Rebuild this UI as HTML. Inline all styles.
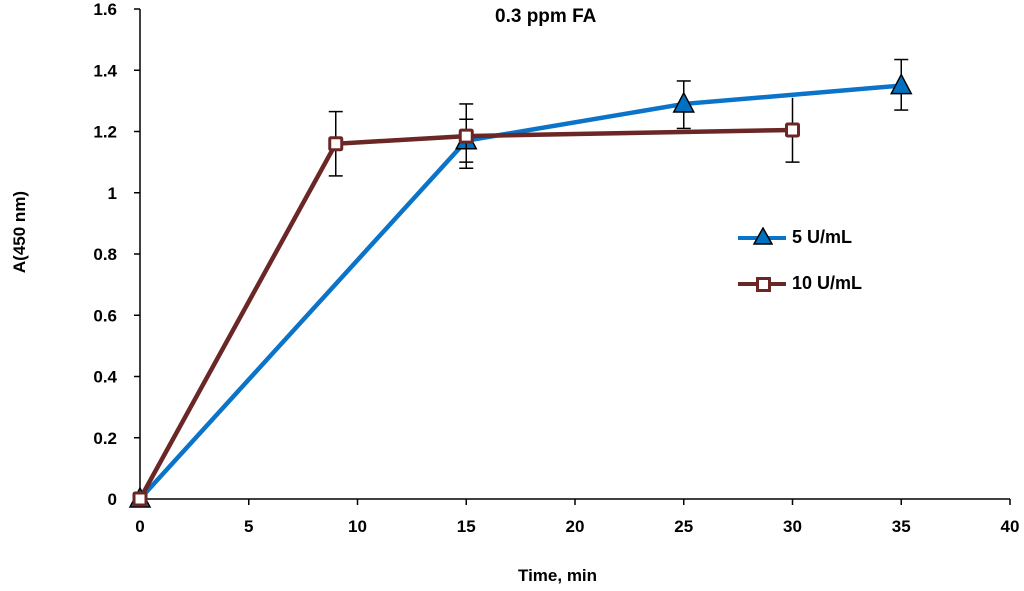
<!DOCTYPE html>
<html><head><meta charset="utf-8"><style>
body{margin:0;background:#fff;}
svg{display:block;font-family:"Liberation Sans",sans-serif;}
</style></head><body>
<svg id="c" width="1024" height="591"></svg>
<script>
const categoriesA=[0,15,25,35];
const valuesA=[0,1.17,1.29,1.35];
const errUpA=[0,0.12,0.075,0.085];
const errLoA=[0,0.09,0.08,0.08];
const categoriesB=[0,9,15,30];
const valuesB=[0,1.16,1.185,1.205];
const errUpB=[0,0.105,0.055,0.105];
const errLoB=[0,0.105,0.085,0.105];
const xTicks=[0,5,10,15,20,25,30,35,40];
const yTicks=[0,0.2,0.4,0.6,0.8,1,1.2,1.4,1.6];
const NS="http://www.w3.org/2000/svg";
const svg=document.getElementById('c');
const X=v=>140+v*21.75, Y=v=>499-v*306.25;
function mk(t,a,p){const e=document.createElementNS(NS,t);for(const k in a)e.setAttribute(k,a[k]);(p||svg).appendChild(e);return e;}
let ax=mk('line',{x1:140,y1:9,x2:140,y2:499,stroke:'#000','stroke-width':1.5});


ax=mk('line',{x1:140,y1:499,x2:1010,y2:499,stroke:'#000','stroke-width':1.5});


xTicks.forEach(v=>{mk('line',{x1:X(v),y1:499,x2:X(v),y2:505,stroke:'#000','stroke-width':1.5});
 const t=mk('text',{x:X(v),y:532,'text-anchor':'middle','font-size':17,'font-weight':'bold'});t.textContent=v;
 
 });
yTicks.forEach(v=>{mk('line',{x1:134,y1:Y(v),x2:140,y2:Y(v),stroke:'#000','stroke-width':1.5});
 const t=mk('text',{x:117,y:Y(v)+6,'text-anchor':'end','font-size':17,'font-weight':'bold'});t.textContent=v;
 
 });
function series(cat,val,up,lo,color,name,marker,noTopCapIdx){
 const g=mk('g',{});
 
 
 mk('polyline',{points:cat.map((c,i)=>X(c)+','+Y(val[i])).join(' '),fill:'none',stroke:color,'stroke-width':4.5},g);
 cat.forEach((c,i)=>{
  if(up[i]>0){const x=X(c);
   mk('line',{x1:x,y1:Y(val[i]+up[i]),x2:x,y2:Y(val[i]-lo[i]),stroke:'#000','stroke-width':1.5},g);
   if(i!==noTopCapIdx) mk('line',{x1:x-7,x2:x+7,y1:Y(val[i]+up[i]),y2:Y(val[i]+up[i]),stroke:'#000','stroke-width':1.5},g);
   mk('line',{x1:x-7,x2:x+7,y1:Y(val[i]-lo[i]),y2:Y(val[i]-lo[i]),stroke:'#000','stroke-width':1.5},g);}
  marker(X(c),Y(val[i]),g);
 });
}
const tri=(x,y,g)=>{const m=mk('polygon',{points:`${x},${y-11} ${x-10},${y+8} ${x+10},${y+8}`,fill:'#0070c0',stroke:'#000','stroke-width':1.5},g);};
const sq=(x,y,g)=>{const m=mk('rect',{x:x-6,y:y-6,width:12,height:12,fill:'#fff',stroke:'#6b2626','stroke-width':3,rx:1},g);};
series(categoriesA,valuesA,errUpA,errLoA,'#0b74c8','series-5u-ml',tri,-1);
series(categoriesB,valuesB,errUpB,errLoB,'#6b2626','series-10u-ml',sq,3);
</script>
<div style="position:absolute;left:0;top:0;width:1024px;height:591px;pointer-events:none;font-family:'Liberation Sans',sans-serif;font-weight:bold;white-space:nowrap;">
<div style="position:absolute;left:495px;top:6px;font-size:19px;">0.3 ppm FA</div>
<div style="position:absolute;left:518px;top:566px;font-size:17px;">Time, min</div>
<div style="position:absolute;left:-30px;top:222px;font-size:17px;transform:rotate(-90deg);width:100px;text-align:center;">A(450 nm)</div>
<div style="position:absolute;left:738px;top:226px;font-size:18px;">
 <div style="position:relative;height:30px;width:200px;">
  <span style="position:absolute;left:0;top:10px;width:48px;height:4px;background:#0b74c8;"></span>
  <svg style="position:absolute;left:15px;top:1px" width="20" height="20"><polygon points="10,1 1,17 19,17" fill="#0070c0" stroke="#000" stroke-width="1.5"/></svg>
  <span style="position:absolute;left:54px;top:1px;">5 U/mL</span></div>
 <div style="position:relative;height:30px;width:200px;top:17px;">
  <span style="position:absolute;left:0;top:9px;width:48px;height:4px;background:#6b2626;"></span>
  <span style="position:absolute;left:18px;top:4px;width:9px;height:9px;border:3px solid #6b2626;background:#fff;"></span>
  <span style="position:absolute;left:54px;top:0;">10 U/mL</span></div>
</div>
</div>
</body></html>
